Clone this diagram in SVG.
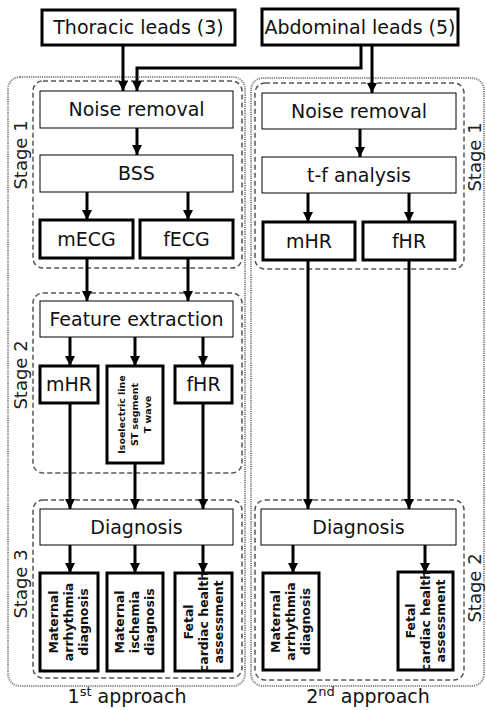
<svg xmlns="http://www.w3.org/2000/svg" width="486" height="710" viewBox="0 0 486 710">
<defs>
<marker id="ah" markerUnits="userSpaceOnUse" markerWidth="10" markerHeight="10" viewBox="0 0 10 10" refX="10" refY="5" orient="auto">
<path d="M0,0 L10,5 L0,10 Z" fill="#000"/>
</marker>
<style>
.thin{fill:#fff;stroke:#000;stroke-width:1}
.thick{fill:#fff;stroke:#000;stroke-width:3}
.outer{fill:none;stroke:#8a8a8a;stroke-width:2;stroke-dasharray:1.2 1}
.inner{fill:none;stroke:#555;stroke-width:1.5;stroke-dasharray:5 3}
.lbl{font-family:"DejaVu Sans",Verdana,sans-serif;font-size:19px;fill:#111;text-anchor:middle}
.stage{font-family:"DejaVu Sans",Verdana,sans-serif;font-size:18px;fill:#222;text-anchor:middle}
.rot{font-family:"DejaVu Sans",Verdana,sans-serif;font-size:12.5px;font-weight:bold;fill:#111;text-anchor:middle}
.iso{font-family:"DejaVu Sans",Verdana,sans-serif;font-size:9.5px;font-weight:bold;fill:#111;text-anchor:middle}
.conn{fill:none;stroke:#000;stroke-width:3}
</style>
</defs>
<rect width="486" height="710" fill="#fff"/>

<g id="groups">
<rect class="outer" x="8" y="77" width="237" height="609" rx="12"/>
<rect class="outer" x="251" y="78" width="233" height="608" rx="12"/>
<rect class="inner" x="33" y="81" width="209" height="187" rx="10"/>
<rect class="inner" x="33" y="293" width="209" height="180" rx="10"/>
<rect class="inner" x="33" y="500" width="209" height="178" rx="10"/>
<rect class="inner" x="255" y="83" width="209" height="186" rx="10"/>
<rect class="inner" x="255" y="500" width="209" height="180" rx="10"/>
<text class="stage" transform="translate(27,155) rotate(-90)">Stage 1</text>
<text class="stage" transform="translate(27,375) rotate(-90)">Stage 2</text>
<text class="stage" transform="translate(27,584) rotate(-90)">Stage 3</text>
<text class="stage" transform="translate(481,157) rotate(-90)">Stage 1</text>
<text class="stage" transform="translate(481,588) rotate(-90)">Stage 2</text>
<text class="lbl" x="127" y="703" font-size="20">1<tspan font-size="13" dy="-7">st</tspan><tspan dy="7"> approach</tspan></text>
<text class="lbl" x="368" y="703" font-size="20">2<tspan font-size="13" dy="-7">nd</tspan><tspan dy="7"> approach</tspan></text>
</g>

<g id="connectors">
<path class="conn" d="M123,45 V91" marker-end="url(#ah)"/>
<path class="conn" d="M361,45 V68 H137 V91" marker-end="url(#ah)"/>
<path class="conn" d="M372,45 V93" marker-end="url(#ah)"/>
<path class="conn" d="M137,128 V155" marker-end="url(#ah)"/>
<path class="conn" d="M87,192 V220" marker-end="url(#ah)"/>
<path class="conn" d="M188,192 V220" marker-end="url(#ah)"/>
<path class="conn" d="M87,258 V301" marker-end="url(#ah)"/>
<path class="conn" d="M188,258 V301" marker-end="url(#ah)"/>
<path class="conn" d="M70,337 V366" marker-end="url(#ah)"/>
<path class="conn" d="M135,337 V366" marker-end="url(#ah)"/>
<path class="conn" d="M203,337 V366" marker-end="url(#ah)"/>
<path class="conn" d="M70,403 V509" marker-end="url(#ah)"/>
<path class="conn" d="M135,463 V509" marker-end="url(#ah)"/>
<path class="conn" d="M203,403 V509" marker-end="url(#ah)"/>
<path class="conn" d="M70,545 V573" marker-end="url(#ah)"/>
<path class="conn" d="M135,545 V573" marker-end="url(#ah)"/>
<path class="conn" d="M203,545 V573" marker-end="url(#ah)"/>
<path class="conn" d="M360,129 V157" marker-end="url(#ah)"/>
<path class="conn" d="M308,193 V222" marker-end="url(#ah)"/>
<path class="conn" d="M409,193 V222" marker-end="url(#ah)"/>
<path class="conn" d="M308,260 V509" marker-end="url(#ah)"/>
<path class="conn" d="M409,260 V509" marker-end="url(#ah)"/>
<path class="conn" d="M293,545 V573" marker-end="url(#ah)"/>
<path class="conn" d="M425,545 V573" marker-end="url(#ah)"/>
</g>

<g id="thoracic"><rect class="thick" x="42" y="10" width="193" height="35"/><text class="lbl" x="138.5" y="34" font-size="18">Thoracic leads (3)</text></g>
<g id="abdominal"><rect class="thick" x="262" y="9" width="196" height="36"/><text class="lbl" x="360" y="34" font-size="18">Abdominal leads (5)</text></g>

<g id="noise1"><rect class="thin" x="40" y="91" width="193" height="37"/><text class="lbl" x="136.5" y="116">Noise removal</text></g>
<g id="bss"><rect class="thin" x="40" y="155" width="193" height="37"/><text class="lbl" x="136.5" y="180">BSS</text></g>
<g id="mecg"><rect class="thick" x="40" y="220" width="93" height="38"/><text class="lbl" x="86.5" y="246">mECG</text></g>
<g id="fecg"><rect class="thick" x="140" y="220" width="93" height="38"/><text class="lbl" x="186.5" y="246">fECG</text></g>
<g id="feature"><rect class="thin" x="40" y="301" width="193" height="36"/><text class="lbl" x="136.5" y="326">Feature extraction</text></g>
<g id="mhr1"><rect class="thick" x="40" y="366" width="58" height="37"/><text class="lbl" x="69" y="391">mHR</text></g>
<g id="iso"><rect class="thick" x="107" y="366" width="56" height="97"/>
<text class="iso" transform="translate(135,414.5) rotate(-90)"><tspan x="0" y="-10">Isoelectric line</tspan><tspan x="0" y="3">ST segment</tspan><tspan x="0" y="16">T wave</tspan></text></g>
<g id="fhr1"><rect class="thick" x="175" y="366" width="57" height="37"/><text class="lbl" x="203.5" y="391">fHR</text></g>
<g id="diag1"><rect class="thin" x="40" y="509" width="193" height="36"/><text class="lbl" x="136.5" y="534">Diagnosis</text></g>
<g id="out1"><rect class="thick" x="40" y="573" width="58" height="98"/>
<text class="rot" transform="translate(69,622) rotate(-90)"><tspan x="0" y="-11">Maternal</tspan><tspan x="0" y="4">arrhythmia</tspan><tspan x="0" y="19">diagnosis</tspan></text></g>
<g id="out2"><rect class="thick" x="107" y="573" width="56" height="98"/>
<text class="rot" transform="translate(135,622) rotate(-90)"><tspan x="0" y="-11">Maternal</tspan><tspan x="0" y="4">ischemia</tspan><tspan x="0" y="19">diagnosis</tspan></text></g>
<g id="out3"><rect class="thick" x="175" y="573" width="57" height="98"/>
<text class="rot" transform="translate(203.5,622) rotate(-90)"><tspan x="0" y="-11">Fetal</tspan><tspan x="0" y="4">cardiac health</tspan><tspan x="0" y="19">assessment</tspan></text></g>

<g id="noise2"><rect class="thin" x="262" y="93" width="194" height="36"/><text class="lbl" x="359" y="118">Noise removal</text></g>
<g id="tf"><rect class="thin" x="262" y="157" width="194" height="36"/><text class="lbl" x="359" y="182">t-f analysis</text></g>
<g id="mhr2"><rect class="thick" x="263" y="222" width="92" height="38"/><text class="lbl" x="309" y="248">mHR</text></g>
<g id="fhr2"><rect class="thick" x="363" y="222" width="92" height="38"/><text class="lbl" x="409" y="248">fHR</text></g>
<g id="diag2"><rect class="thin" x="261" y="509" width="195" height="36"/><text class="lbl" x="358.5" y="534">Diagnosis</text></g>
<g id="out4"><rect class="thick" x="263" y="573" width="56" height="97"/>
<text class="rot" transform="translate(291,621.5) rotate(-90)"><tspan x="0" y="-11">Maternal</tspan><tspan x="0" y="4">arrhythmia</tspan><tspan x="0" y="19">diagnosis</tspan></text></g>
<g id="out5"><rect class="thick" x="398" y="572" width="55" height="98"/>
<text class="rot" transform="translate(425.5,621) rotate(-90)"><tspan x="0" y="-11">Fetal</tspan><tspan x="0" y="4">cardiac health</tspan><tspan x="0" y="19">assessment</tspan></text></g>
</svg>
